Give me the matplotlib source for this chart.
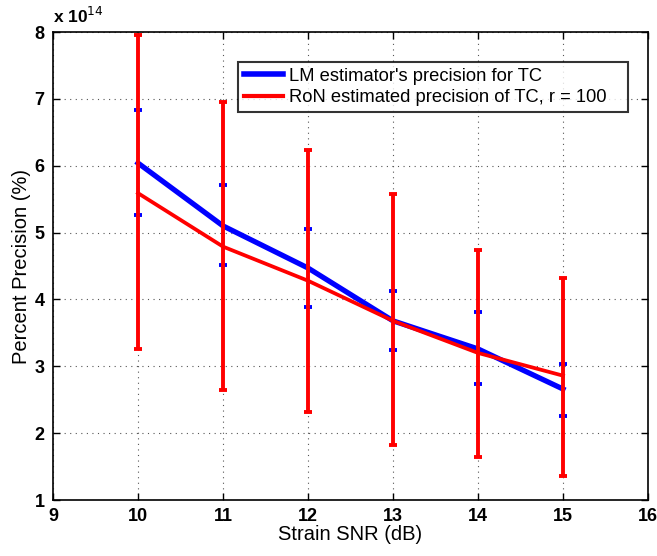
import matplotlib
matplotlib.use('Agg')
import matplotlib.pyplot as plt
from matplotlib.lines import Line2D
import numpy as np

# SNR values (dB)
snr = [10, 11, 12, 13, 14, 15]

# LM estimator precision (x 1e14) with lower/upper bar ends
lm_mean = [6.04, 5.10, 4.47, 3.68, 3.26, 2.66]
lm_low = [5.26, 4.52, 3.89, 3.25, 2.74, 2.25]
lm_high = [6.83, 5.71, 5.06, 4.13, 3.81, 3.04]

# RoN estimated precision (x 1e14), r = 100
ron_mean = [5.59, 4.79, 4.28, 3.68, 3.20, 2.86]
ron_low = [3.26, 2.65, 2.32, 1.83, 1.65, 1.36]
ron_high = [7.96, 6.95, 6.24, 5.58, 4.74, 4.32]

xticks = [9, 10, 11, 12, 13, 14, 15, 16]
yticks = [1, 2, 3, 4, 5, 6, 7, 8]

labels = ["LM estimator's precision for TC", 'RoN estimated precision of TC, r = 100']

plt.rcParams['font.family'] = ['Liberation Sans', 'DejaVu Sans']
narrow = ['Liberation Sans Narrow', 'Liberation Sans', 'DejaVu Sans']

fig = plt.figure(figsize=(6.57, 5.56), dpi=100)
ax = fig.add_axes([0.0807, 0.1007, 0.9056, 0.8417])

lm_mean = np.array(lm_mean)
ron_mean = np.array(ron_mean)
lm_err = [lm_mean - np.array(lm_low), np.array(lm_high) - lm_mean]
ron_err = [ron_mean - np.array(ron_low), np.array(ron_high) - ron_mean]

ax.errorbar(snr, lm_mean, yerr=lm_err, color='#0000ff', lw=3.8,
            elinewidth=1.0, capsize=2.8, capthick=2.8, zorder=3)
ax.errorbar(snr, ron_mean, yerr=ron_err, color='#ff0000', lw=2.7,
            elinewidth=2.8, capsize=3.0, capthick=2.8, zorder=4)

ax.set_xlim(9, 16)
ax.set_ylim(1, 8)
ax.set_xticks(xticks)
ax.set_yticks(yticks)
tick_font = dict(family=narrow, weight='bold', size=13)
ax.set_xticklabels([str(t) for t in xticks], fontdict=tick_font)
ax.set_yticklabels([str(t) for t in yticks], fontdict=tick_font)
ax.tick_params(direction='in', top=True, right=True, length=5, width=1, pad=6)

ax.grid(True, linestyle=(0, (1, 4)), color='#555555', lw=0.8)
for s in ax.spines.values():
    s.set_linewidth(1.2)

ax.set_xlabel('Strain SNR (dB)', fontsize=14.5, labelpad=0)
ax.set_ylabel('Percent Precision (%)', fontsize=14.5, labelpad=3)

ax.text(0.0, 1.012, r'x 10$^{14}$', transform=ax.transAxes, ha='left', va='bottom',
        fontsize=12.5, fontweight='bold', family=narrow)

handles = [Line2D([], [], color='#0000ff', lw=4),
           Line2D([], [], color='#ff0000', lw=3)]
leg = ax.legend(handles, labels, loc='upper left',
                bbox_to_anchor=(0.311, 0.823, 0.655, 0.113), mode='expand',
                fontsize=13.2, frameon=True, fancybox=False, edgecolor='black',
                handlelength=2.15, borderpad=0.32, labelspacing=0.25,
                handletextpad=0.3, borderaxespad=0)
leg.get_frame().set_linewidth(1.5)

fig.savefig('out.png', dpi=100)
